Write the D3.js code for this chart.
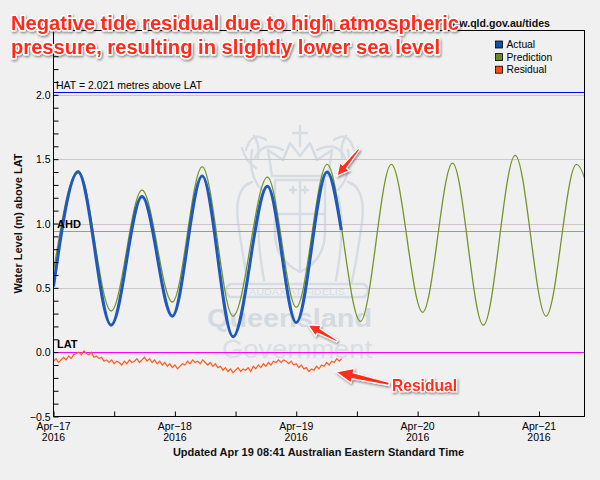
<!DOCTYPE html>
<html><head><meta charset="utf-8">
<script src="https://cdn.jsdelivr.net/npm/d3@7"></script>
<style>
body{margin:0;background:#f0f0f0}
svg{display:block}
text{font-family:"Liberation Sans",Arial,Helvetica,sans-serif}
</style>
</head><body>
<svg id="c" width="600" height="480"></svg>
<script>
// ---- data (hours after Apr 17 2016 00:00, metres above LAT) ----
const predictionHours  = [0, 4.87, 11.4, 17.5, 23.5, 29.4, 35.5, 42.3, 48.0, 54.1, 60.7, 66.8, 73.0, 78.9, 85.0, 91.3, 97.4, 103.4, 109.6];
const predictionValues = [0.63, 1.41, 0.32, 1.26, 0.39, 1.44, 0.28, 1.36, 0.35, 1.46, 0.24, 1.46, 0.31, 1.47, 0.21, 1.53, 0.28, 1.46, 0.30];
const actualHours  = [0, 4.87, 11.4, 17.5, 23.5, 29.4, 35.5, 42.3, 48.0, 54.1, 56.9];
const actualValues = [0.51, 1.40, 0.21, 1.21, 0.28, 1.37, 0.12, 1.29, 0.23, 1.40, 0.95];
const residualStepHours = 0.5;
const residualValues = [
 -0.07,-0.05,-0.08,-0.06,-0.04,-0.06,-0.03,-0.05,-0.02,-0.01,
  0.00,-0.02, 0.01,-0.01,-0.02, 0.00,-0.04,-0.03,-0.05,-0.04,
 -0.07,-0.06,-0.08,-0.06,-0.09,-0.07,-0.08,-0.10,-0.07,-0.09,
 -0.06,-0.08,-0.07,-0.05,-0.08,-0.06,-0.04,-0.07,-0.05,-0.08,
 -0.06,-0.09,-0.07,-0.10,-0.08,-0.11,-0.09,-0.12,-0.10,-0.13,
 -0.11,-0.09,-0.10,-0.07,-0.09,-0.06,-0.08,-0.07,-0.09,-0.06,
 -0.08,-0.10,-0.08,-0.11,-0.09,-0.12,-0.11,-0.14,-0.12,-0.15,
 -0.13,-0.16,-0.14,-0.12,-0.15,-0.13,-0.14,-0.12,-0.15,-0.11,
 -0.13,-0.10,-0.12,-0.09,-0.11,-0.08,-0.10,-0.07,-0.08,-0.06,
 -0.08,-0.06,-0.07,-0.09,-0.07,-0.10,-0.09,-0.12,-0.10,-0.13,
 -0.12,-0.15,-0.13,-0.14,-0.11,-0.13,-0.10,-0.11,-0.08,-0.10,
 -0.07,-0.08,-0.05,-0.07,-0.05];
const xDayLabels = ["Apr\u221217","Apr\u221218","Apr\u221219","Apr\u221220","Apr\u221221"];
const xYearLabel = "2016";
const yMajorTicks = [-0.5, 0.0, 0.5, 1.0, 1.5, 2.0];
const yTickLabels = ["\u22120.5","0.0","0.5","1.0","1.5","2.0"];
const gridValues = [0.5, 1.0, 1.5, 2.0];
const legendItems = ["Actual","Prediction","Residual"];
const legendColors = ["#1450a8","#6b8a22","#ff4a10"];
const hatLevel = 2.021, ahdLevel = 0.94, latLevel = 0.0;
const titleLines = ["Negative tide residual due to high atmospheric","pressure, resulting in slightly lower sea level"];

// ---- scales ----
const t0 = new Date(2016, 3, 17, 0, 0);
const hr = h => new Date(t0.getTime() + h * 3600e3);
const tEnd = hr(105);
const L = 53.5, R = 584.5, T = 30.5, B = 416.5;
const x = d3.scaleTime().domain([t0, tEnd]).range([L, R]);
const y = d3.scaleLinear().domain([-0.5, 2.5]).range([B, T]);

const svg = d3.select("#c");
svg.append("rect").attr("width",600).attr("height",480).attr("fill","#f0f0f0");

const defs = svg.append("defs");
defs.append("clipPath").attr("id","plot").append("rect")
  .attr("x",L).attr("y",T).attr("width",R-L).attr("height",B-T);
const f = defs.append("filter").attr("id","sh").attr("x","-10%").attr("y","-30%").attr("width","120%").attr("height","160%");
f.append("feDropShadow").attr("dx",1).attr("dy",1.5).attr("stdDeviation",1.2)
  .attr("flood-color","#000").attr("flood-opacity",0.45);

// ---- watermark ----
const wm = svg.append("g").attr("fill","none").attr("stroke","#d5dce4").attr("stroke-width",2.4)
  .attr("stroke-linejoin","round").attr("stroke-linecap","round");
wm.append("path").attr("d","M300,126 V146 M293,133 H307");
wm.append("path").attr("d","M272,176 L268,150 L283,160 L290,143 L300,156 L310,143 L317,160 L332,150 L328,176 Z");
wm.append("path").attr("d","M275,180 H325 V232 Q325,260 300,272 Q275,260 275,232 Z M300,180 V272 M275,214 H325");
wm.append("path").attr("d","M290,190 h6 M293,187 v6 M302,190 h6 M305,187 v6");
wm.append("path").attr("d","M262,190 q-14,-14 -10,-40 M256,168 q-10,-6 -14,-20 M258,158 q2,-14 -4,-22 M252,182 q-18,6 -14,40 q4,30 10,60 M262,196 q-8,30 2,84");
wm.append("path").attr("d","M338,190 q14,-14 10,-40 M344,168 q10,-6 14,-20 M342,158 q-2,-14 4,-22 M348,182 q18,6 14,40 q-4,30 -10,60 M338,196 q8,30 -2,84");
wm.append("path").attr("d","M283,150 q-20,-10 -28,8 M317,150 q20,-10 28,8 M266,140 q-14,-10 -20,10 M334,140 q14,-10 20,10");
wm.append("path").attr("d","M230,284 H364 M230,297 H364 M230,284 q-8,6 0,13 M364,284 q8,6 0,13");
svg.append("text").attr("x",297).attr("y",294.5).attr("text-anchor","middle")
  .attr("font-family","'Liberation Serif',serif").attr("font-size",9).attr("fill","#d5dce4")
  .attr("textLength",96).attr("lengthAdjust","spacingAndGlyphs").text("AUDAX AT FIDELIS");
svg.append("text").attr("x",207).attr("y",327).attr("font-size",25).attr("font-weight","bold")
  .attr("fill","#d3dae2").attr("textLength",165).attr("lengthAdjust","spacingAndGlyphs").text("Queensland");
svg.append("text").attr("x",222).attr("y",358).attr("font-size",25)
  .attr("fill","#d8dee5").attr("textLength",150).attr("lengthAdjust","spacingAndGlyphs").text("Government");

// ---- grid ----
svg.append("g").selectAll("line").data(gridValues).join("line")
  .attr("x1",L).attr("x2",R).attr("y1",d=>Math.round(y(d))+0.5).attr("y2",d=>Math.round(y(d))+0.5)
  .attr("stroke","#c8c8c8").attr("stroke-width",1);

// ---- reference lines ----
const refs = [[hatLevel,"#0000ff"],[ahdLevel,"#22ee22"],[latLevel,"#ff00ff"]];
svg.append("g").selectAll("line").data(refs).join("line")
  .attr("x1",L).attr("x2",R).attr("y1",d=>Math.round(y(d[0]))+0.5).attr("y2",d=>Math.round(y(d[0]))+0.5)
  .attr("stroke",d=>d[1]).attr("stroke-width",1.2);

// ---- series ----
const plot = svg.append("g").attr("clip-path","url(#plot)");
const line = d3.line().x(d=>x(hr(d[0]))).y(d=>y(d[1])).curve(d3.curveMonotoneX);
plot.append("path").datum(d3.zip(predictionHours, predictionValues))
  .attr("d",line).attr("fill","none").attr("stroke","#74952a").attr("stroke-width",1.3);
plot.append("path").datum(d3.zip(actualHours, actualValues))
  .attr("d",line).attr("fill","none").attr("stroke","#1f58bb").attr("stroke-width",3);
const lineR = d3.line().x(d=>x(hr(d[0]))).y(d=>y(d[1]));
plot.append("path").datum(residualValues.map((v,i)=>[i*residualStepHours, v]))
  .attr("d",lineR).attr("fill","none").attr("stroke","#ff5a1e").attr("stroke-width",1.2);

// ---- level labels ----
svg.append("text").attr("x",56).attr("y",y(hatLevel)-3).attr("font-size",10.5).attr("fill","#000")
  .text("HAT = 2.021 metres above LAT");
svg.append("text").attr("x",57).attr("y",y(ahdLevel)-3).attr("font-size",11).attr("font-weight","bold").text("AHD");
svg.append("text").attr("x",57).attr("y",y(latLevel)-4).attr("font-size",11).attr("font-weight","bold").text("LAT");

// ---- frame & axes ----
svg.append("rect").attr("x",L).attr("y",T).attr("width",R-L).attr("height",B-T)
  .attr("fill","none").attr("stroke","#000").attr("stroke-width",1);
const yMinor = d3.range(-5, 25).map(i => i / 10);
const ya = svg.append("g").attr("transform",`translate(${L},0)`)
  .call(d3.axisLeft(y).tickValues(yMinor).tickSize(-5).tickFormat(""));
ya.select(".domain").remove();
ya.selectAll("line").attr("stroke","#000");
svg.append("g").selectAll("text").data(yMajorTicks).join("text")
  .attr("x",50.5).attr("y",d=>y(d)+4).attr("text-anchor","end").attr("font-size",10.5).attr("fill","#000")
  .text((d,i)=>yTickLabels[i]);

const halfDays = d3.range(0, 9).map(i => hr(i*12));
const xa = svg.append("g").attr("transform",`translate(0,${B})`)
  .call(d3.axisBottom(x).tickValues(halfDays).tickSize(-5).tickFormat(""));
xa.select(".domain").remove();
xa.selectAll("line").attr("stroke","#000");
const dayTicks = d3.range(0, 5).map(i => hr(i*24));
const xl = svg.append("g").selectAll("g").data(dayTicks).join("g")
  .attr("transform",d=>`translate(${x(d)},0)`);
xl.append("text").attr("y",430).attr("text-anchor","middle").attr("font-size",10.5).text((d,i)=>xDayLabels[i]);
xl.append("text").attr("y",441).attr("text-anchor","middle").attr("font-size",10.5).text(xYearLabel);

svg.append("text").attr("x",318.5).attr("y",456).attr("text-anchor","middle").attr("font-size",11)
  .attr("font-weight","bold").attr("fill","#111").text("Updated Apr 19 08:41 Australian Eastern Standard Time");
svg.append("text").attr("transform",`translate(22,${(T+B)/2}) rotate(-90)`).attr("text-anchor","middle")
  .attr("font-size",11).attr("font-weight","bold").attr("fill","#111").text("Water Level (m) above LAT");

// ---- header text & legend ----
svg.append("text").attr("x",550).attr("y",27).attr("text-anchor","end").attr("font-size",10.6)
  .attr("font-weight","bold").attr("fill","#111").text("www.qld.gov.au/tides");
const lg = svg.append("g").selectAll("g").data(legendItems).join("g")
  .attr("transform",(d,i)=>`translate(495.5,${41 + i*12.6})`);
lg.append("rect").attr("width",7).attr("height",7).attr("fill",(d,i)=>legendColors[i]).attr("stroke","#000").attr("stroke-width",0.8);
lg.append("text").attr("x",11).attr("y",7.2).attr("font-size",10.3).attr("fill","#000").text(d=>d);

// ---- annotations ----
function arrow(tail, tip, headLen, headW, w0, w1){
  const dx = tip[0]-tail[0], dy = tip[1]-tail[1], len = Math.hypot(dx,dy);
  const ux = dx/len, uy = dy/len, nx = -uy, ny = ux;
  const bx = tip[0]-ux*headLen, by = tip[1]-uy*headLen;
  const p = [
    [tail[0]+nx*w0/2, tail[1]+ny*w0/2],
    [bx+nx*w1/2, by+ny*w1/2],
    [bx+nx*headW/2, by+ny*headW/2],
    tip,
    [bx-nx*headW/2, by-ny*headW/2],
    [bx-nx*w1/2, by-ny*w1/2],
    [tail[0]-nx*w0/2, tail[1]-ny*w0/2]];
  return "M" + p.map(q=>q.join(",")).join("L") + "Z";
}
const ann = svg.append("g").attr("filter","url(#sh)");
const arrows = [
  [[359,149],[337,176],12,12,2,5],
  [[337,341],[308,325],12,12,2,5],
  [[389,384],[336,372],17,15,3,6]];
ann.selectAll("path").data(arrows).join("path")
  .attr("d",d=>arrow(...d)).attr("fill","#ff2d1a").attr("stroke","#fff").attr("stroke-width",1.2);
ann.append("text").attr("x",392).attr("y",391).attr("font-size",16.5).attr("font-weight","bold")
  .attr("fill","#ff2d1a").attr("stroke","#fff").attr("stroke-width",2.5).attr("paint-order","stroke")
  .attr("textLength",65).attr("lengthAdjust","spacingAndGlyphs").text("Residual");
const tl = svg.append("g").attr("filter","url(#sh)");
tl.selectAll("text").data(titleLines).join("text")
  .attr("x",11).attr("y",(d,i)=>30 + i*23.5).attr("font-size",20).attr("font-weight","bold")
  .attr("fill","#ff2a1a").attr("stroke","#fff").attr("stroke-width",3).attr("paint-order","stroke")
  .attr("stroke-linejoin","round")
  .attr("textLength",(d,i)=>i===0?448:429).attr("lengthAdjust","spacingAndGlyphs").text(d=>d);
</script>
</body></html>
